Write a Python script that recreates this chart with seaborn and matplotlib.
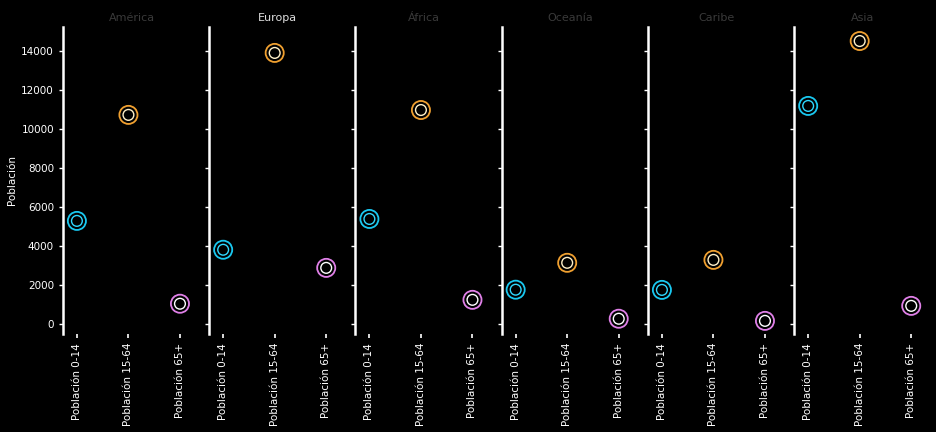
import matplotlib
matplotlib.use("Agg")
import matplotlib.pyplot as plt
import seaborn as sns
import pandas as pd

regions = ["América", "Europa", "África", "Oceanía", "Caribe", "Asia"]
groups = ["Población 0-14", "Población 15-64", "Población 65+"]
pop_0_14 = [5280, 3800, 5380, 1750, 1740, 11180]
pop_15_64 = [10720, 13900, 10970, 3130, 3280, 14510]
pop_65 = [1030, 2870, 1230, 260, 150, 920]
yticks = [0, 2000, 4000, 6000, 8000, 10000, 12000, 14000]

rows = []
for i, r in enumerate(regions):
    for g, v in zip(groups, [pop_0_14[i], pop_15_64[i], pop_65[i]]):
        rows.append({"Región": r, "Grupo": g, "Población": v})
df = pd.DataFrame(rows)

sns.set_theme(style="ticks")
plt.rcParams["font.family"] = ["DejaVu Sans"]
plt.rcParams.update({
    "figure.facecolor": "black", "axes.facecolor": "black",
    "text.color": "white", "axes.labelcolor": "white",
    "xtick.color": "white", "ytick.color": "white",
    "axes.edgecolor": "white",
})

palette = {"Población 0-14": "#19c8f0", "Población 15-64": "#f0a030", "Población 65+": "#e080e8"}
inner = {"Población 0-14": "#30d8ff", "Población 15-64": "#fff0c8", "Población 65+": "#ffffff"}


def ring(ax, sub, pal, size, lw):
    sns.scatterplot(data=sub, x="Grupo", y="Población", hue="Grupo", palette=pal,
                    s=size, legend=False, ax=ax)
    coll = ax.collections[-1]
    fc = coll.get_facecolors()
    coll.set_edgecolors(fc)
    coll.set_facecolors("none")
    coll.set_linewidths(lw)


fig, axes = plt.subplots(1, 6, figsize=(9.36, 4.32), dpi=100, sharey=True)
fig.subplots_adjust(left=0.0673, right=0.995, top=0.9375, bottom=0.227, wspace=0.067)

for ax, r in zip(axes, regions):
    sub = df[df["Región"] == r]
    ring(ax, sub, palette, 170, 1.3)
    ring(ax, sub, inner, 60, 1.0)
    ax.set_xlim(-0.27, 2.39)
    ax.set_ylim(-520, 15230)
    ax.set_yticks(yticks)
    ax.set_title(r, fontsize=8, color="#3a3a3a" if r != "Europa" else "#dddddd", pad=4)
    ax.set_xlabel("")
    ax.tick_params(axis="x", rotation=90, labelsize=7.5, length=3, width=1.2)
    ax.tick_params(axis="y", labelsize=7.5, length=3, width=1)
    for sp in ["top", "right", "bottom"]:
        ax.spines[sp].set_visible(False)
    ax.spines["left"].set_linewidth(1.8)
    ax.grid(False)
    if ax is not axes[0]:
        ax.set_ylabel("")

axes[0].set_ylabel("Población", fontsize=7.5, labelpad=3)

fig.savefig("out.png", dpi=100, facecolor="black")
